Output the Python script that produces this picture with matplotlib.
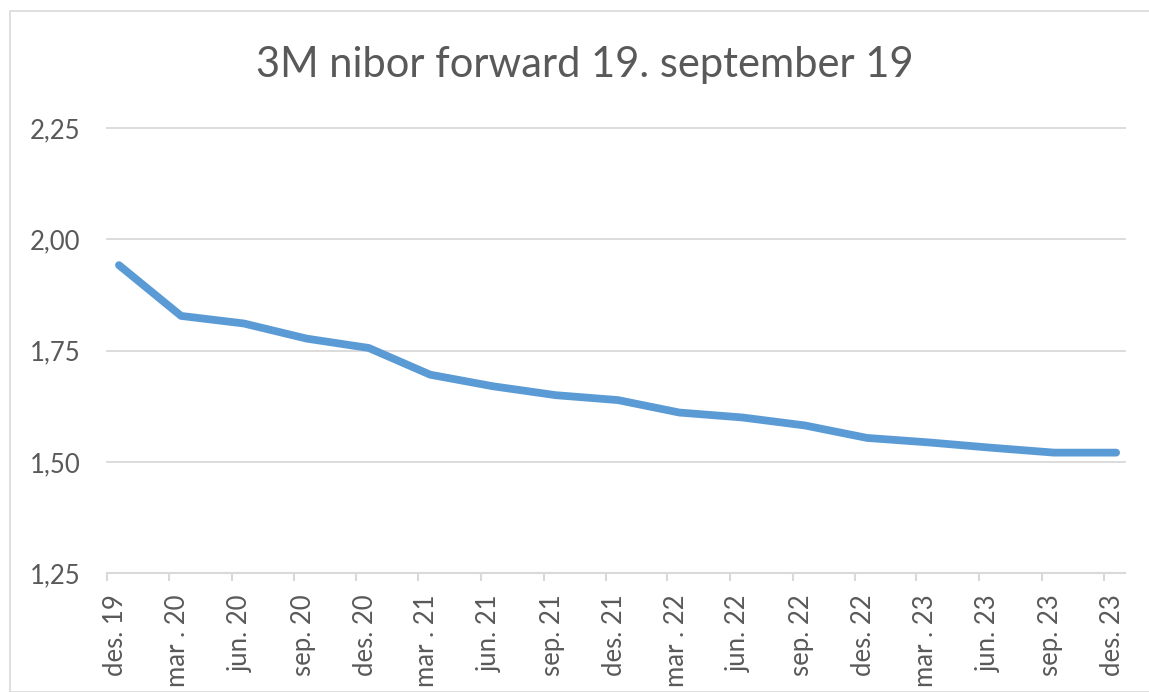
import datetime as dt
import matplotlib
matplotlib.use('Agg')
import matplotlib.pyplot as plt
import matplotlib.dates as mdates
from matplotlib.ticker import FuncFormatter
from matplotlib.transforms import ScaledTranslation
from matplotlib.patches import Rectangle

plt.rcParams['font.family'] = ['Lato', 'DejaVu Sans']

TITLE = "3M nibor forward 19. september 19"

# forward start dates (19th of each quarter month) and 3M nibor forward rates
point_dates = [dt.date(2019, 12, 19), dt.date(2020, 3, 19), dt.date(2020, 6, 19),
               dt.date(2020, 9, 19), dt.date(2020, 12, 19), dt.date(2021, 3, 19),
               dt.date(2021, 6, 19), dt.date(2021, 9, 19), dt.date(2021, 12, 19),
               dt.date(2022, 3, 19), dt.date(2022, 6, 19), dt.date(2022, 9, 19),
               dt.date(2022, 12, 19), dt.date(2023, 3, 19), dt.date(2023, 6, 19),
               dt.date(2023, 9, 19), dt.date(2023, 12, 19)]
rates = [1.942, 1.828, 1.811, 1.777, 1.756, 1.696, 1.670, 1.650, 1.639,
         1.611, 1.600, 1.582, 1.554, 1.544, 1.532, 1.521, 1.521]

tick_dates = [dt.date(2019, 12, 1), dt.date(2020, 3, 1), dt.date(2020, 6, 1),
              dt.date(2020, 9, 1), dt.date(2020, 12, 1), dt.date(2021, 3, 1),
              dt.date(2021, 6, 1), dt.date(2021, 9, 1), dt.date(2021, 12, 1),
              dt.date(2022, 3, 1), dt.date(2022, 6, 1), dt.date(2022, 9, 1),
              dt.date(2022, 12, 1), dt.date(2023, 3, 1), dt.date(2023, 6, 1),
              dt.date(2023, 9, 1), dt.date(2023, 12, 1)]
tick_labels = ["des. 19", "mar . 20", "jun. 20", "sep. 20", "des. 20",
               "mar . 21", "jun. 21", "sep. 21", "des. 21", "mar . 22",
               "jun. 22", "sep. 22", "des. 22", "mar . 23", "jun. 23",
               "sep. 23", "des. 23"]
y_ticks = [1.25, 1.50, 1.75, 2.00, 2.25]

TXT = '#595959'
GRID = '#D9D9D9'
LINE = '#5B9BD5'

W, H = 1149, 692
fig = plt.figure(figsize=(W / 100, H / 100), dpi=100)
fig.patches.append(Rectangle((10 / W, 0), 1.2, 1 - 11 / H, transform=fig.transFigure,
                             fill=False, edgecolor=GRID, lw=1.2))

ax = fig.add_axes([106.7 / W, 1 - 573.3 / H, (1125 - 106.7) / W, (573.3 - 128) / H])
ax.plot(point_dates, rates, color=LINE, lw=5.6,
        solid_capstyle='round', solid_joinstyle='round', zorder=3)

ax.set_xlim(dt.date(2019, 12, 1), dt.date(2024, 1, 1))
ax.set_ylim(1.25, 2.25)
ax.set_yticks(y_ticks)
ax.yaxis.set_major_formatter(FuncFormatter(lambda v, p: f"{v:.2f}".replace('.', ',')))
ax.grid(axis='y', color=GRID, lw=1.3, clip_on=False)
ax.set_axisbelow(True)

ax.set_xticks([mdates.date2num(d) for d in tick_dates])
ax.set_xticklabels(tick_labels, rotation=90, va='top', ha='center')

for s in ('top', 'right', 'left'):
    ax.spines[s].set_visible(False)
ax.spines['bottom'].set_color(GRID)
ax.spines['bottom'].set_linewidth(1.5)

ax.tick_params(axis='y', length=0, pad=19, labelsize=18.5, labelcolor=TXT)
ax.tick_params(axis='x', length=6, width=1.5, color=GRID, direction='out',
               pad=9, labelsize=18.5, labelcolor=TXT)

# Excel nudges the rotated labels a little to the right of the tick
shift = ScaledTranslation(0.09, 0, fig.dpi_scale_trans)
for lbl in ax.get_xticklabels():
    lbl.set_transform(lbl.get_transform() + shift)

fig.text(585 / W, 1 - 65 / H, TITLE, ha='center', va='center', fontsize=30, color=TXT)

fig.savefig('out.png', dpi=100)
